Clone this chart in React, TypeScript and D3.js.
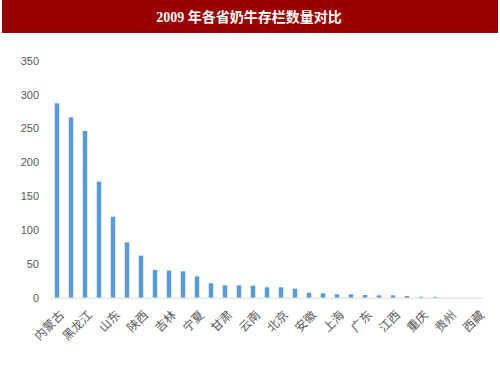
import { useEffect, useRef } from "react";
import * as d3 from "d3";

const provinces = [
  "内蒙古", "河北", "黑龙江", "新疆", "山东", "河南", "陕西", "辽宁",
  "吉林", "山西", "宁夏", "天津", "甘肃", "四川", "云南", "青海",
  "北京", "江苏", "安徽", "湖北", "上海", "福建", "广东", "湖南",
  "江西", "广西", "重庆", "浙江", "贵州", "海南", "西藏",
];

const cowCounts = [
  287.5, 266.8, 246.6, 171.6, 119.8, 81.9, 62.1, 41, 40.2, 39, 31.6, 21.3,
  18.3, 18.3, 17.8, 15.4, 15.4, 13.4, 7.4, 6.5, 5, 5, 4, 3.5, 3.5, 2.5, 1.5,
  1.2, 0, 0, 0,
];

const yTicks = [0, 50, 100, 150, 200, 250, 300, 350];

const title = "2009 年各省奶牛存栏数量对比";

export default function App() {
  const svgRef = useRef<SVGSVGElement>(null);

  useEffect(() => {
    if (!svgRef.current) return;
    const width = 500;
    const height = 375;
    const margin = { top: 61, right: 16, bottom: 77, left: 50 };

    const svg = d3.select(svgRef.current);
    svg.selectAll("*").remove();

    svg
      .append("rect")
      .attr("width", width)
      .attr("height", height)
      .attr("fill", "#ffffff");

    // Title banner
    svg
      .append("rect")
      .attr("x", 2)
      .attr("y", 0)
      .attr("width", 496)
      .attr("height", 33)
      .attr("fill", "#9b0000");

    svg
      .append("text")
      .attr("x", 249)
      .attr("y", 22)
      .attr("text-anchor", "middle")
      .style("fill", "#ffffff")
      .style("font-family", "'Liberation Serif', 'Noto Sans CJK SC', serif")
      .style("font-weight", "700")
      .style("font-size", "14px")
      .text(title);

    const x = d3
      .scaleBand()
      .domain(provinces)
      .range([margin.left, width - margin.right])
      .paddingInner(0.68)
      .paddingOuter(0.34);

    const y = d3
      .scaleLinear()
      .domain([0, 350])
      .range([height - margin.bottom - 0.3, margin.top]);

    // Y tick labels (no axis line)
    svg
      .append("g")
      .selectAll("text")
      .data(yTicks)
      .enter()
      .append("text")
      .attr("x", 39)
      .attr("y", (d) => y(d))
      .attr("dy", "0.35em")
      .attr("text-anchor", "end")
      .style("fill", "#595959")
      .style("font-family", "'Liberation Sans', 'Noto Sans', sans-serif")
      .style("font-size", "11px")
      .text((d) => d.toString());

    // Bars
    svg
      .append("g")
      .selectAll("rect")
      .data(provinces)
      .enter()
      .append("rect")
      .attr("x", (d) => x(d) ?? 0)
      .attr("y", (_, i) => y(cowCounts[i]))
      .attr("width", x.bandwidth())
      .attr("height", (_, i) => y(0) - y(cowCounts[i]))
      .attr("fill", "#5b9bd5");

    // Baseline
    svg
      .append("line")
      .attr("x1", margin.left)
      .attr("x2", width - margin.right)
      .attr("y1", y(0) + 0.5)
      .attr("y2", y(0) + 0.5)
      .style("stroke", "#d9d9d9")
      .style("stroke-width", "1px");

    // Category labels, every other one, rotated
    svg
      .append("g")
      .selectAll("text")
      .data(provinces.filter((_, i) => i % 2 === 0))
      .enter()
      .append("text")
      .attr("transform", (d) => {
        const cx = (x(d) ?? 0) + x.bandwidth() / 2 + 5;
        return `translate(${cx}, ${y(0) + 15}) rotate(-45)`;
      })
      .attr("text-anchor", "end")
      .attr("dy", "0.35em")
      .style("fill", "#595959")
      .style("font-family", "'Noto Sans CJK SC', sans-serif")
      .style("font-size", "12px")
      .text((d) => d);
  }, []);

  return (
    <div style={{ position: "absolute", left: 0, top: 0 }}>
      <svg ref={svgRef} width={500} height={375} style={{ display: "block" }} />
    </div>
  );
}
